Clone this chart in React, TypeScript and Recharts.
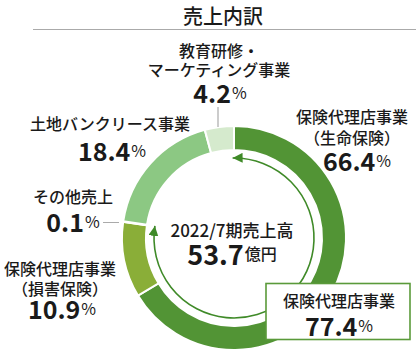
import React from 'react';
import { PieChart, Pie, Cell } from 'recharts';

const categories = [
  '保険代理店事業（生命保険）',
  '保険代理店事業（損害保険）',
  'その他売上',
  '土地バンクリース事業',
  '教育研修・マーケティング事業',
];
const shares = [66.4, 10.9, 0.1, 18.4, 4.2];
const sliceColors = ['#529435', '#8aae38', '#9fcf8c', '#8cc883', '#d5eacd'];
const insuranceTotal = 77.4;
const totalSales = '53.7';
const periodLabel = '2022/7期売上高';
const title = '売上内訳';

const data = categories.map((name, i) => ({ name, value: shares[i] }));

const W = 416;
const H = 355;
const CX = 234;
const CY = 238;
const OUTER = 112;
const INNER = 88;
const ARROW_R = 80;
const FONT = '"Noto Sans CJK JP", "Noto Sans", sans-serif';
const TEXT = '#1a1a1a';
const ARROW = '#3f8a28';

const Pct = ({ x, y, v }: { x: number; y: number; v: number }) => (
  <text x={x} y={y} textAnchor="middle" dominantBaseline="central" fill={TEXT} fontFamily={FONT}>
    <tspan fontSize={25} fontWeight={700}>{v.toFixed(1)}</tspan>
    <tspan fontSize={16} dx={1}>%</tspan>
  </text>
);

const T = ({ x, y, s, size = 16 }: { x: number; y: number; s: string; size?: number }) => (
  <text x={x} y={y} textAnchor="middle" dominantBaseline="central" fill={TEXT} fontFamily={FONT} fontSize={size} fontWeight={500}>
    {s}
  </text>
);

const polar = (r: number, deg: number) => {
  const rad = (deg * Math.PI) / 180;
  return { x: CX + r * Math.sin(rad), y: CY - r * Math.cos(rad) };
};

const Overlay = () => {
  const endDeg = (insuranceTotal / 100) * 360;
  const p0 = polar(ARROW_R, -1);
  const p1 = polar(ARROW_R, endDeg);
  return (
    <svg width={W} height={H} style={{ position: 'absolute', left: 0, top: 0, pointerEvents: 'none' }}>
      <defs>
        <marker id="ah" markerUnits="userSpaceOnUse" markerWidth={12} markerHeight={10} refX={10} refY={5} orient="auto-start-reverse">
          <path d="M0,0 L10,5 L0,10 Z" fill={ARROW} />
        </marker>
      </defs>
      <path
        d={`M${p0.x},${p0.y} A${ARROW_R},${ARROW_R} 0 1 1 ${p1.x},${p1.y}`}
        fill="none"
        stroke={ARROW}
        strokeWidth={1.6}
        markerStart="url(#ah)"
        markerEnd="url(#ah)"
      />
      {/* title */}
      <T x={223} y={15} s={title} size={20} />
      <line x1={33} y1={29.5} x2={416} y2={29.5} stroke="#aaaaaa" strokeWidth={1} />

      {/* 4.2% */}
      <T x={219} y={50} s="教育研修・" />
      <T x={219} y={69} s="マーケティング事業" />
      <Pct x={220} y={92} v={shares[4]} />
      <line x1={218} y1={107} x2={218} y2={127} stroke="#999" strokeWidth={1} />

      {/* 66.4% */}
      <T x={352} y={116} s="保険代理店事業" />
      <T x={352} y={137} s="（生命保険）" />
      <Pct x={357} y={160} v={shares[0]} />

      {/* 18.4% */}
      <T x={110} y={123} s="土地バンクリース事業" />
      <Pct x={112} y={150} v={shares[3]} />

      {/* 0.1% */}
      <T x={73} y={196} s="その他売上" />
      <Pct x={73} y={221} v={shares[2]} />
      <line x1={103} y1={222.5} x2={119} y2={222.5} stroke="#aaa" strokeWidth={1} />

      {/* 10.9% */}
      <T x={60} y={268} s="保険代理店事業" />
      <T x={60} y={288} s="（損害保険）" />
      <Pct x={62} y={308} v={shares[1]} />

      {/* center */}
      <T x={232} y={229} s={periodLabel} size={17} />
      <text x={232} y={253} textAnchor="middle" dominantBaseline="central" fill={TEXT} fontFamily={FONT}>
        <tspan fontSize={27} fontWeight={700}>{totalSales}</tspan>
        <tspan fontSize={16} fontWeight={500} dx={1}>億円</tspan>
      </text>

      {/* box */}
      <rect x={266} y={283.5} width={144} height={56} fill="#fff" stroke="#5a9a3a" strokeWidth={1.6} />
      <T x={339} y={300} s="保険代理店事業" />
      <Pct x={339} y={325} v={insuranceTotal} />
    </svg>
  );
};

export default function App() {
  return (
    <div style={{ position: 'absolute', left: 0, top: 0, width: W, height: H, background: '#fff' }}>
      <PieChart width={W} height={H} margin={{ top: 0, right: 0, bottom: 0, left: 0 }}>
        <Pie
          data={data}
          dataKey="value"
          nameKey="name"
          cx={CX}
          cy={CY}
          innerRadius={INNER}
          outerRadius={OUTER}
          startAngle={90}
          endAngle={-270}
          stroke="#ffffff"
          strokeWidth={2}
          isAnimationActive={false}
        >
          {data.map((d, i) => (
            <Cell key={d.name} fill={sliceColors[i]} />
          ))}
        </Pie>
      </PieChart>
      <Overlay />
    </div>
  );
}
